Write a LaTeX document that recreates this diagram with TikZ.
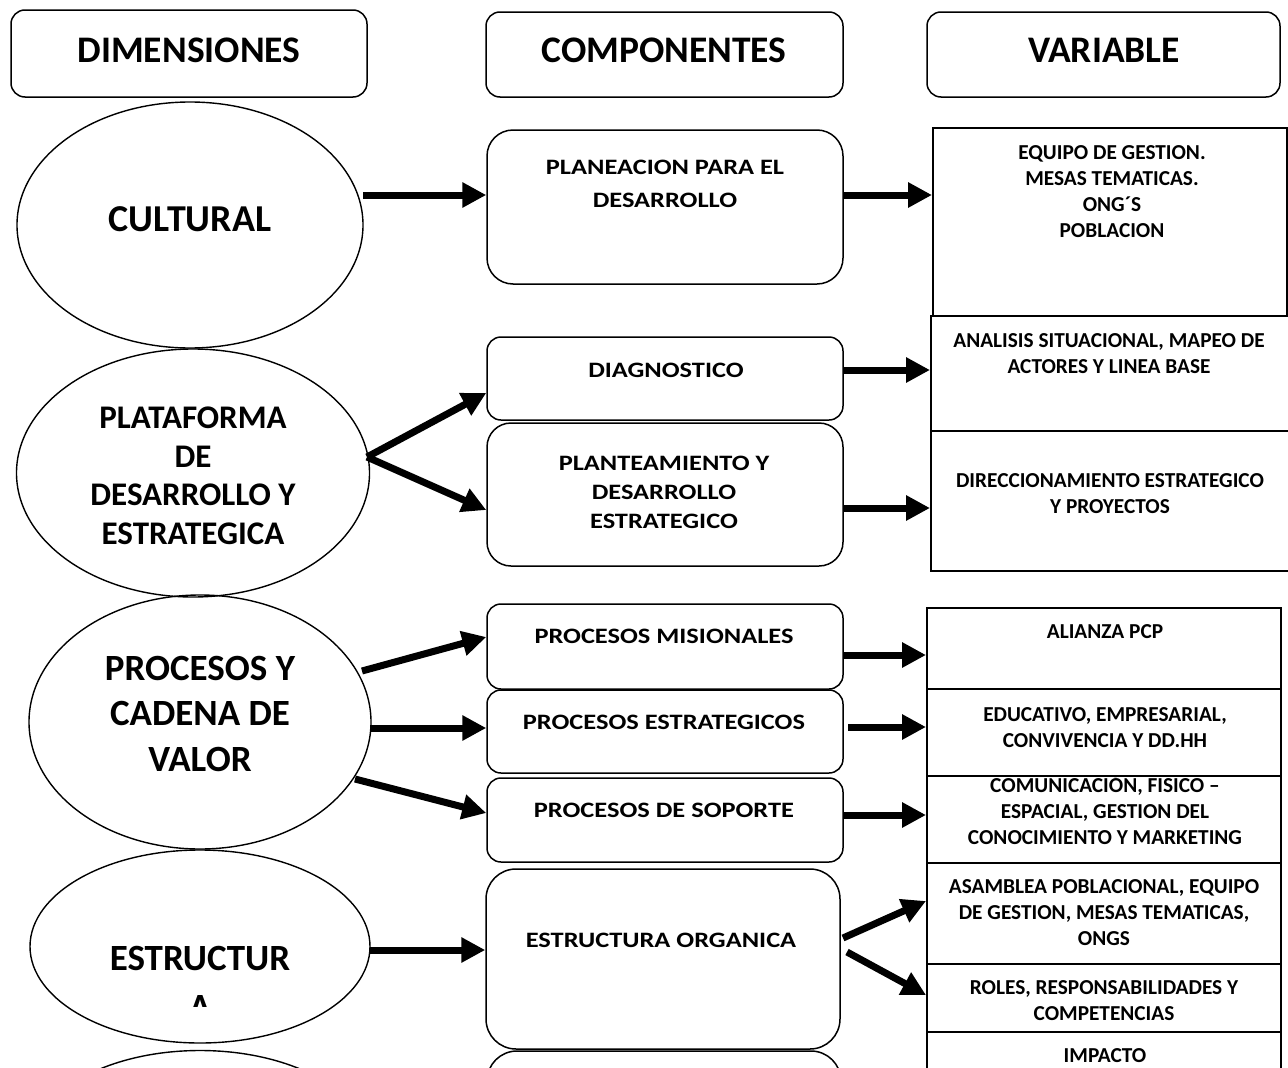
\documentclass[tikz,border=0pt]{standalone}
\usepackage{fontspec}
\setmainfont{Carlito}
\newfontfamily\compfont[FakeStretch=1.2]{Carlito}
\usetikzlibrary{shapes.geometric,arrows.meta}
\begin{document}
\begin{tikzpicture}[x=1pt,y=-1pt,
  hbox/.style={draw, line width=1.5pt, rounded corners=14pt, inner sep=0pt},
  rbox/.style={draw, line width=1.5pt, inner sep=0pt},
  vbox/.style={draw, line width=2pt, inner sep=0pt},
  ell/.style={draw, ellipse, line width=1.4pt, inner sep=0pt},
  txt/.style={inner sep=0pt, align=center},
  hfont/.style={font=\fontsize{37.5}{45}\selectfont\bfseries},
  cfont/.style={font=\compfont\fontsize{22}{33}\selectfont\bfseries},
  vfont/.style={font=\fontsize{21.3}{26}\selectfont\bfseries},
  arr/.style={line width=7pt, -{Triangle[length=24pt,width=24pt]}}]
\path[use as bounding box, clip] (0,0) rectangle (1288,1068);

% headers
\node[hbox, minimum width=356pt, minimum height=87pt] (h1) at (189,53.5) {};
\node[hbox, minimum width=357pt, minimum height=85pt] (h2) at (664.5,54.5) {};
\node[hbox, minimum width=353pt, minimum height=85pt] (h3) at (1103.5,54.5) {};
\node[txt, hfont] (h1t) at (189,50) {DIMENSIONES};
\node[txt, hfont] (h2t) at (664,50) {COMPONENTES};
\node[txt, hfont] (h3t) at (1104,50) {VARIABLE};

% ellipses
\node[ell, minimum width=346pt, minimum height=246pt] (cult) at (190,225) {};
\node[ell, minimum width=353pt, minimum height=248pt] (plat) at (193,473) {};
\node[ell, minimum width=342pt, minimum height=254pt] (proc) at (200,722) {};
\node[ell, minimum width=340pt, minimum height=193pt] (estr) at (200,946.5) {};
\node[ell, minimum width=340pt, minimum height=193pt] (ell5) at (200,1147) {};

\node[txt, font=\fontsize{38}{45}\selectfont\bfseries] (cultt) at (190,219) {CULTURAL};
\node[txt, font=\fontsize{33}{38.7}\selectfont\bfseries] (platt) at (193,475.7) {PLATAFORMA\\DE\\DESARROLLO Y\\ESTRATEGICA};
\node[txt, font=\fontsize{37}{45.5}\selectfont\bfseries] (proct) at (200,713.6) {PROCESOS Y\\CADENA DE\\VALOR};
\begin{scope}
\clip (0,840) rectangle (400,1006);
\node[txt, font=\fontsize{37}{49}\selectfont\bfseries] (estrt) at (200,982.6) {ESTRUCTUR\\A};
\end{scope}

% component boxes
\node[rbox, rounded corners=26pt, minimum width=356pt, minimum height=154pt] (plan) at (665,207) {};
\node[rbox, rounded corners=14pt, minimum width=356pt, minimum height=83pt] (diag) at (665,378.5) {};
\node[rbox, rounded corners=24pt, minimum width=356pt, minimum height=143pt] (plant) at (665,494.5) {};
\node[rbox, rounded corners=14pt, minimum width=356pt, minimum height=85pt] (mis) at (665,646.5) {};
\node[rbox, rounded corners=14pt, minimum width=356pt, minimum height=83pt] (estg) at (665,731.5) {};
\node[rbox, rounded corners=14pt, minimum width=356pt, minimum height=84pt] (sop) at (665,820) {};
\node[rbox, rounded corners=30pt, minimum width=354pt, minimum height=180pt] (org) at (663,959) {};
\node[rbox, rounded corners=30pt, minimum width=354pt, minimum height=180pt] (box8) at (664,1141) {};

\node[txt, cfont] (plant1) at (665,183.4) {PLANEACION PARA EL\\DESARROLLO};
\node[txt, cfont] (diagt) at (666,370) {DIAGNOSTICO};
\node[txt, cfont, font=\compfont\fontsize{22}{29}\selectfont\bfseries] (plantt) at (664,491.9) {PLANTEAMIENTO Y\\DESARROLLO\\ESTRATEGICO};
\node[txt, cfont] (mist) at (664,636) {PROCESOS MISIONALES};
\node[txt, cfont] (estgt) at (664,722) {PROCESOS ESTRATEGICOS};
\node[txt, cfont] (sopt) at (664,810) {PROCESOS DE SOPORTE};
\node[txt, cfont] (orgt) at (661,940) {ESTRUCTURA ORGANICA};

% variable boxes
\node[vbox, minimum width=354pt, minimum height=188pt] (v1) at (1110,222) {};
\node[vbox, minimum width=369pt, minimum height=115pt] (v2) at (1115.5,373.5) {};
\node[vbox, minimum width=369pt, minimum height=140pt] (v3) at (1115.5,501) {};
\node[vbox, minimum width=354pt, minimum height=81pt] (w1) at (1104,648.5) {};
\node[vbox, minimum width=354pt, minimum height=87pt] (w2) at (1104,732.5) {};
\node[vbox, minimum width=354pt, minimum height=87pt] (w3) at (1104,819.5) {};
\node[vbox, minimum width=354pt, minimum height=101pt] (w4) at (1104,913.5) {};
\node[vbox, minimum width=354pt, minimum height=68pt] (w5) at (1104,998) {};
\node[vbox, minimum width=354pt, minimum height=208pt] (w6) at (1104,1136) {};

\node[txt, vfont] (v1t) at (1112,192) {EQUIPO DE GESTION.\\MESAS TEMATICAS.\\ONG´S\\POBLACION};
\node[txt, vfont] (v2t) at (1109,353.6) {ANALISIS SITUACIONAL, MAPEO DE\\ACTORES Y LINEA BASE};
\node[txt, vfont] (v3t) at (1110,493.6) {DIRECCIONAMIENTO ESTRATEGICO\\Y PROYECTOS};
\node[txt, vfont] (w1t) at (1105,632) {ALIANZA PCP};
\node[txt, vfont] (w2t) at (1105,727.6) {EDUCATIVO, EMPRESARIAL,\\CONVIVENCIA Y DD.HH};
\begin{scope}
\clip (927,777) rectangle (1281,863);
\node[txt, vfont] (w3t) at (1105,809.5) {COMUNICACIÓN, FISICO –\\ESPACIAL, GESTION DEL\\CONOCIMIENTO Y MARKETING};
\end{scope}
\node[txt, vfont] (w4t) at (1104,913) {ASAMBLEA POBLACIONAL, EQUIPO\\DE GESTION, MESAS TEMATICAS,\\ONGS};
\node[txt, vfont] (w5t) at (1104,1001) {ROLES, RESPONSABILIDADES Y\\COMPETENCIAS};
\node[txt, vfont] (w6t) at (1105,1056) {IMPACTO};

% arrow start points
\coordinate (s1) at (363,195);
\coordinate (s2) at (844,195);
\coordinate (s3) at (367,457);
\coordinate (s5) at (843,370);
\coordinate (s6) at (843,508);
\coordinate (s7) at (362,671);
\coordinate (s8) at (371,728);
\coordinate (s9) at (355,779);
\coordinate (s10) at (843,655);
\coordinate (s11) at (848,727);
\coordinate (s12) at (843,815);
\coordinate (s13) at (843,938);
\coordinate (s14) at (847,952);
\coordinate (s15) at (370,950);

\draw[arr] (s1) -- (plan.west |- s1);
\draw[arr] (s2) -- (v1.west |- s2);
\draw[arr] (s3) -- (diag.west |- 0,393);
\draw[arr] (s3) -- (plant.west |- 0,510);
\draw[arr] (s5) -- (v2.west |- s5);
\draw[arr] (s6) -- (v3.west |- s6);
\draw[arr] (s7) -- (mis.west |- 0,637);
\draw[arr] (s8) -- (estg.west |- s8);
\draw[arr] (s9) -- (sop.west |- 0,813);
\draw[arr] (s10) -- (w1.west |- s10);
\draw[arr] (s11) -- (w2.west |- s11);
\draw[arr] (s12) -- (w3.west |- s12);
\draw[arr] (s13) -- (w4.west |- 0,901);
\draw[arr] (s14) -- (w5.west |- 0,995);
\draw[arr] (s15) -- (org.west |- s15);
\end{tikzpicture}
\end{document}
